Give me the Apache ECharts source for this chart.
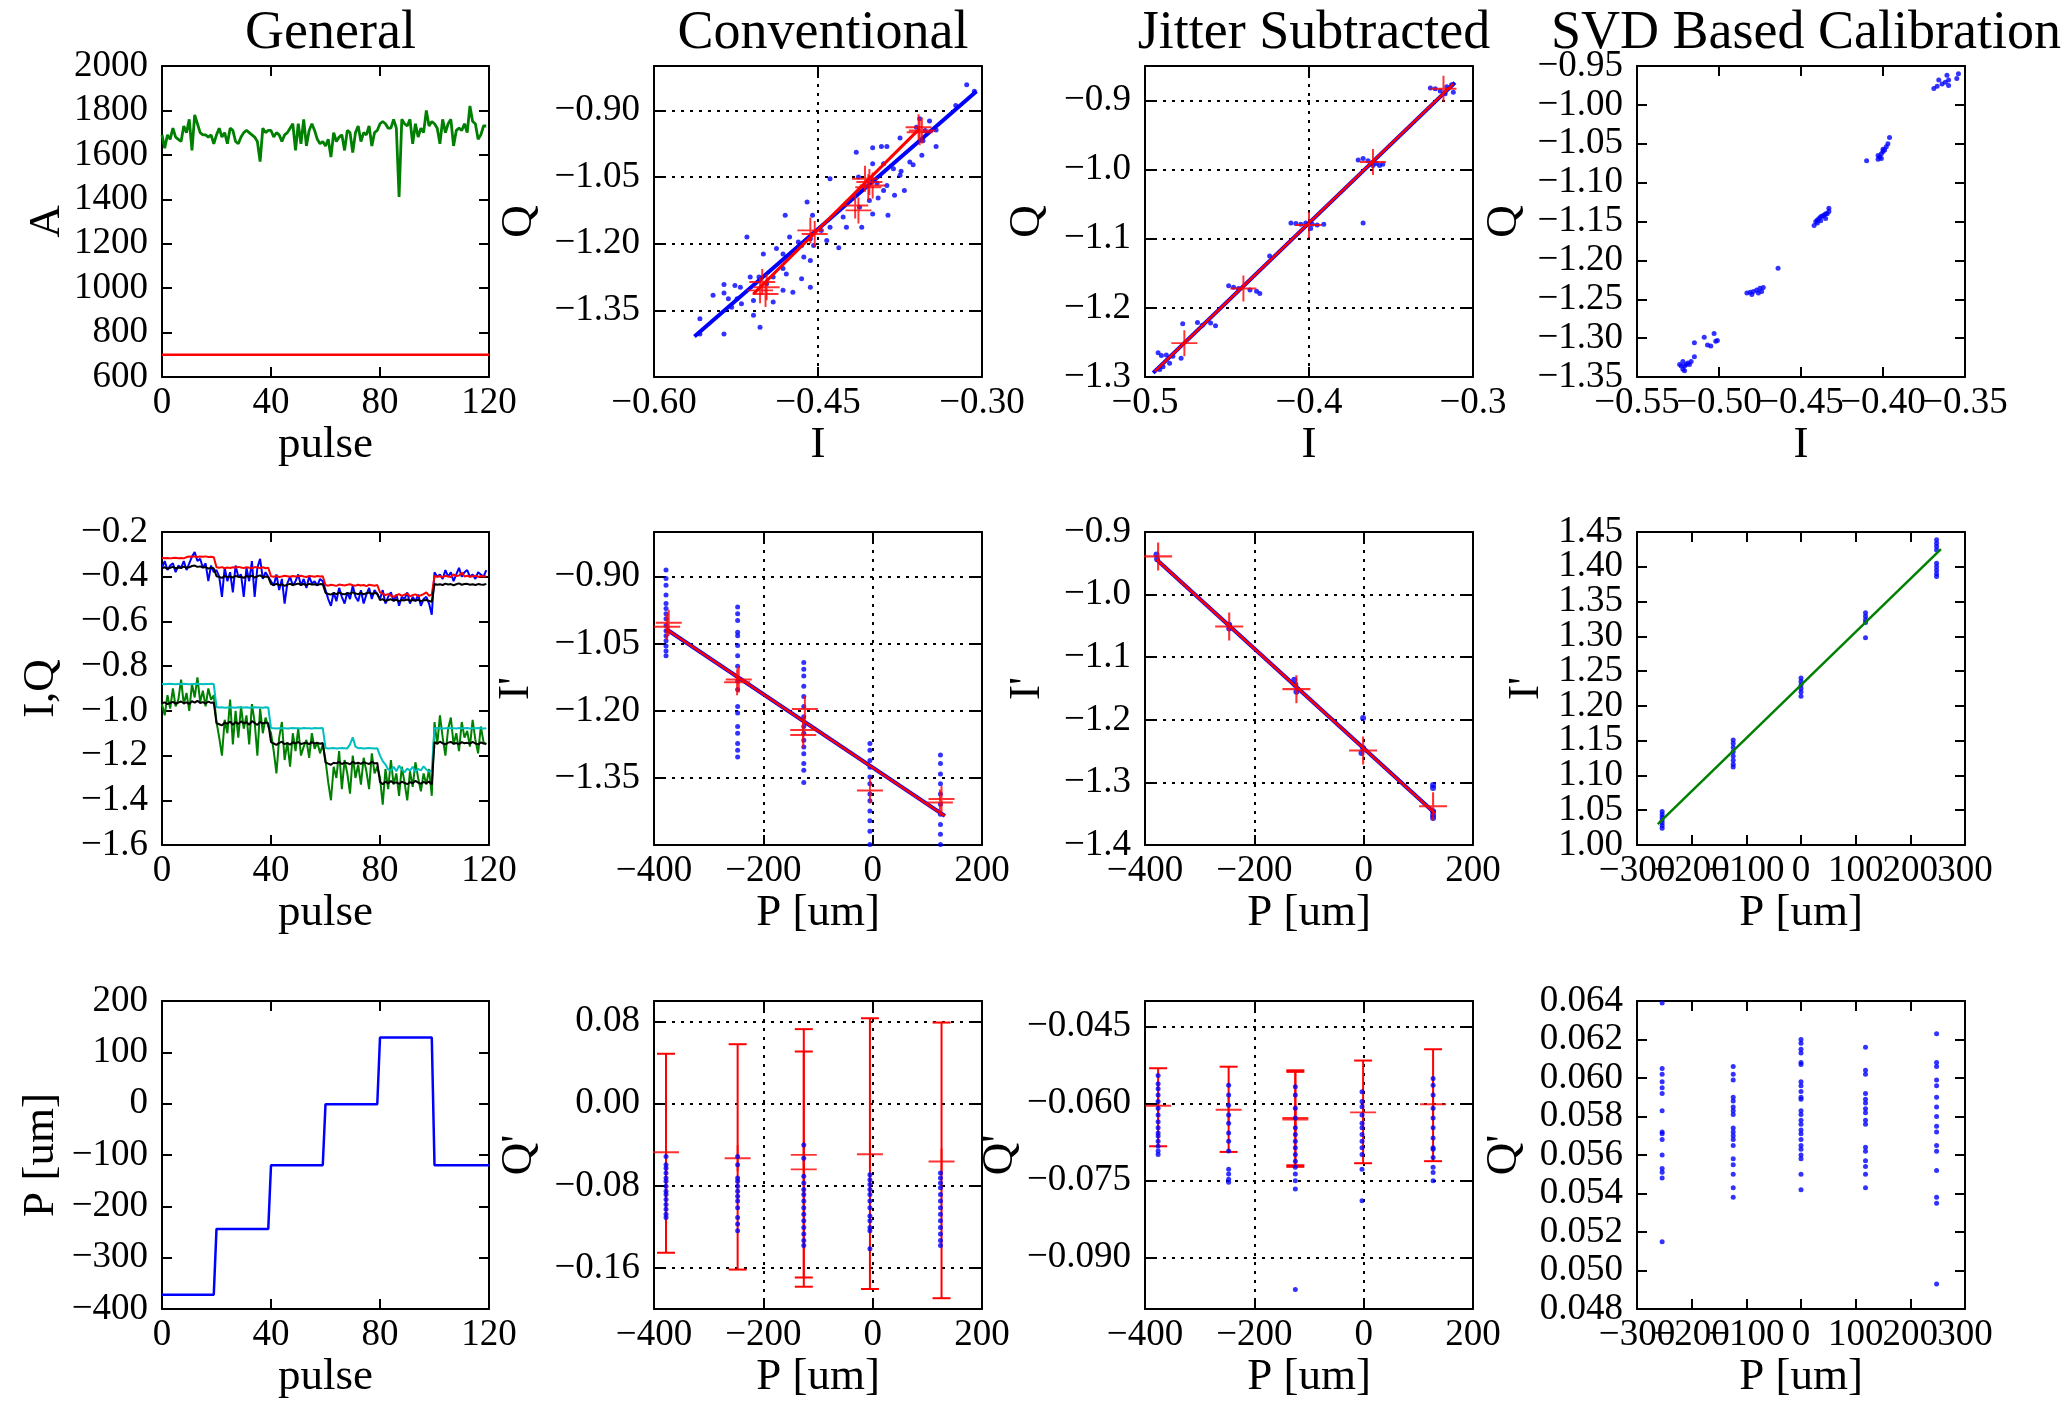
<!DOCTYPE html>
<html><head><meta charset="utf-8">
<script src="https://cdn.jsdelivr.net/npm/echarts@6/dist/echarts.min.js"></script>
<style>html,body{margin:0;padding:0;background:#fff}#c{width:2061px;height:1401px}</style>
</head><body><div id="c"></div>
<script>
const FONT = 'Liberation Serif';
const titles = ['General', 'Conventional', 'Jitter Subtracted', 'SVD Based Calibration'];

// ---------- tick labels ----------
const ticksPulse = ['0', '40', '80', '120'];
const ticksA = ['600', '800', '1000', '1200', '1400', '1600', '1800', '2000'];
const ticksI01 = ['−0.60', '−0.45', '−0.30'];
const ticksQ01 = ['−1.35', '−1.20', '−1.05', '−0.90'];
const ticksI02 = ['−0.5', '−0.4', '−0.3'];
const ticksQ02 = ['−1.3', '−1.2', '−1.1', '−1.0', '−0.9'];
const ticksI03 = ['−0.55', '−0.50', '−0.45', '−0.40', '−0.35'];
const ticksQ03 = ['−1.35', '−1.30', '−1.25', '−1.20', '−1.15', '−1.10', '−1.05', '−1.00', '−0.95'];
const ticksIQ = ['−1.6', '−1.4', '−1.2', '−1.0', '−0.8', '−0.6', '−0.4', '−0.2'];
const ticksP = ['−400', '−200', '0', '200'];
const ticksI12 = ['−1.4', '−1.3', '−1.2', '−1.1', '−1.0', '−0.9'];
const ticksPc = ['−300', '−200', '−100', '0', '100', '200', '300'];
const ticksI13 = ['1.00', '1.05', '1.10', '1.15', '1.20', '1.25', '1.30', '1.35', '1.40', '1.45'];
const ticksPpos = ['−400', '−300', '−200', '−100', '0', '100', '200'];
const ticksQ21 = ['−0.16', '−0.08', '0.00', '0.08'];
const ticksQ22 = ['−0.090', '−0.075', '−0.060', '−0.045'];
const ticksQ23 = ['0.048', '0.050', '0.052', '0.054', '0.056', '0.058', '0.060', '0.062', '0.064'];

// ---------- General column ----------
const amp = [1690,1630,1690,1670,1720,1680,1670,1660,1730,1700,1760,1620,1780,1740,1700,1690,1690,1680,1690,1650,
1690,1720,1680,1700,1650,1720,1710,1660,1650,1680,1700,1710,1700,1690,1680,1660,1570,1720,1700,1710,
1710,1680,1700,1690,1660,1690,1700,1720,1740,1620,1740,1650,1760,1640,1710,1740,1710,1670,1650,1660,
1640,1670,1590,1700,1660,1680,1690,1620,1710,1700,1610,1700,1730,1660,1700,1690,1730,1640,1700,1710,
1740,1750,1740,1720,1720,1760,1720,1410,1760,1740,1730,1760,1650,1740,1680,1720,1700,1800,1730,1750,
1740,1720,1650,1760,1700,1740,1760,1640,1710,1720,1710,1740,1700,1820,1750,1740,1670,1690,1730,1730];
const ampThreshold = [[0, 700], [120, 700]];

const iMeas = [-0.36,-0.33,-0.37,-0.35,-0.34,-0.38,-0.35,-0.36,-0.33,-0.37,-0.34,-0.31,-0.29,-0.33,-0.32,-0.36,-0.34,-0.42,-0.35,-0.38,
-0.37,-0.40,-0.49,-0.36,-0.42,-0.38,-0.47,-0.35,-0.40,-0.39,-0.49,-0.36,-0.42,-0.33,-0.49,-0.36,-0.32,-0.41,-0.38,-0.40,
-0.42,-0.44,-0.39,-0.46,-0.41,-0.52,-0.43,-0.40,-0.44,-0.42,-0.39,-0.44,-0.41,-0.45,-0.40,-0.43,-0.42,-0.44,-0.41,-0.42,
-0.46,-0.50,-0.53,-0.47,-0.51,-0.45,-0.49,-0.52,-0.47,-0.50,-0.44,-0.49,-0.51,-0.46,-0.52,-0.48,-0.45,-0.50,-0.46,-0.48,
-0.50,-0.46,-0.52,-0.49,-0.47,-0.51,-0.48,-0.53,-0.49,-0.50,-0.47,-0.52,-0.49,-0.51,-0.48,-0.53,-0.50,-0.49,-0.52,-0.57,
-0.38,-0.40,-0.39,-0.41,-0.37,-0.40,-0.38,-0.42,-0.39,-0.36,-0.40,-0.38,-0.37,-0.40,-0.39,-0.41,-0.38,-0.39,-0.40,-0.37];
const iRef = [-0.315,-0.317,-0.316,-0.318,-0.316,-0.315,-0.317,-0.316,-0.318,-0.312,-0.310,-0.311,-0.309,-0.312,-0.310,-0.311,-0.309,-0.312,-0.311,-0.313,
-0.358,-0.360,-0.357,-0.362,-0.359,-0.361,-0.358,-0.360,-0.356,-0.359,-0.361,-0.358,-0.360,-0.362,-0.357,-0.359,-0.361,-0.358,-0.362,-0.360,
-0.398,-0.400,-0.397,-0.401,-0.399,-0.396,-0.398,-0.400,-0.397,-0.399,-0.398,-0.396,-0.399,-0.401,-0.397,-0.398,-0.400,-0.397,-0.399,-0.398,
-0.437,-0.440,-0.436,-0.438,-0.441,-0.435,-0.437,-0.439,-0.436,-0.434,-0.438,-0.440,-0.436,-0.439,-0.437,-0.442,-0.436,-0.438,-0.440,-0.437,
-0.470,-0.476,-0.482,-0.478,-0.485,-0.490,-0.483,-0.478,-0.486,-0.480,-0.475,-0.488,-0.482,-0.479,-0.487,-0.483,-0.478,-0.470,-0.485,-0.480,
-0.397,-0.400,-0.398,-0.402,-0.396,-0.399,-0.401,-0.390,-0.397,-0.395,-0.382,-0.399,-0.396,-0.400,-0.398,-0.395,-0.401,-0.397,-0.399,-0.398];
const iFit = [-0.362,-0.358,-0.365,-0.360,-0.356,-0.363,-0.359,-0.361,-0.355,-0.360,-0.358,-0.352,-0.350,-0.356,-0.354,-0.359,-0.357,-0.364,-0.360,-0.362,
-0.398,-0.401,-0.405,-0.397,-0.402,-0.399,-0.404,-0.396,-0.401,-0.400,-0.405,-0.397,-0.401,-0.395,-0.404,-0.398,-0.394,-0.402,-0.399,-0.401,
-0.433,-0.437,-0.432,-0.438,-0.434,-0.441,-0.435,-0.432,-0.437,-0.434,-0.431,-0.436,-0.433,-0.438,-0.432,-0.435,-0.434,-0.437,-0.433,-0.434,
-0.472,-0.477,-0.480,-0.473,-0.478,-0.471,-0.476,-0.479,-0.473,-0.476,-0.470,-0.475,-0.478,-0.472,-0.479,-0.474,-0.471,-0.477,-0.473,-0.475,
-0.505,-0.500,-0.509,-0.504,-0.501,-0.507,-0.503,-0.510,-0.504,-0.506,-0.502,-0.508,-0.504,-0.507,-0.503,-0.509,-0.505,-0.504,-0.508,-0.512,
-0.433,-0.436,-0.434,-0.437,-0.431,-0.435,-0.433,-0.438,-0.434,-0.430,-0.436,-0.433,-0.432,-0.436,-0.434,-0.437,-0.433,-0.435,-0.436,-0.432];
const qMeas = [-0.97,-1.02,-0.93,-0.99,-0.90,-0.98,-0.95,-0.86,-0.97,-0.92,-1.00,-0.88,-0.94,-0.85,-0.96,-0.91,-0.98,-0.90,-0.95,-0.93,
-1.05,-1.12,-1.20,-1.04,-1.10,-0.95,-1.15,-1.00,-1.12,-0.98,-1.08,-1.02,-1.15,-0.97,-1.05,-1.20,-0.99,-1.10,-1.03,-1.07,
-1.10,-1.18,-1.28,-1.12,-1.05,-1.22,-1.14,-1.25,-1.10,-1.18,-1.08,-1.20,-1.16,-1.13,-1.21,-1.10,-1.17,-1.14,-1.19,-1.15,
-1.22,-1.32,-1.40,-1.25,-1.30,-1.18,-1.35,-1.22,-1.28,-1.37,-1.20,-1.30,-1.24,-1.33,-1.21,-1.27,-1.35,-1.19,-1.28,-1.25,
-1.30,-1.42,-1.26,-1.35,-1.22,-1.33,-1.28,-1.38,-1.25,-1.32,-1.40,-1.27,-1.34,-1.23,-1.30,-1.36,-1.28,-1.33,-1.26,-1.38,
-1.05,-1.15,-1.02,-1.12,-1.20,-1.08,-1.03,-1.15,-1.10,-1.18,-1.05,-1.12,-1.09,-1.16,-1.04,-1.13,-1.19,-1.07,-1.14,-1.15];
const qRef = [-0.880,-0.881,-0.880,-0.879,-0.880,-0.881,-0.880,-0.880,-0.879,-0.880,-0.881,-0.880,-0.880,-0.879,-0.880,-0.881,-0.880,-0.880,-0.879,-0.880,
-0.983,-0.985,-0.984,-0.986,-0.985,-0.984,-0.985,-0.986,-0.984,-0.985,-0.985,-0.984,-0.986,-0.985,-0.984,-0.985,-0.985,-0.986,-0.984,-0.985,
-1.077,-1.078,-1.079,-1.078,-1.077,-1.078,-1.079,-1.078,-1.077,-1.078,-1.078,-1.079,-1.077,-1.078,-1.078,-1.079,-1.077,-1.078,-1.078,-1.077,
-1.166,-1.168,-1.167,-1.166,-1.168,-1.167,-1.166,-1.167,-1.168,-1.150,-1.118,-1.160,-1.167,-1.166,-1.168,-1.167,-1.166,-1.167,-1.168,-1.167,
-1.200,-1.225,-1.240,-1.262,-1.268,-1.250,-1.270,-1.245,-1.262,-1.275,-1.258,-1.268,-1.250,-1.272,-1.260,-1.266,-1.248,-1.262,-1.272,-1.268,
-1.078,-1.077,-1.078,-1.079,-1.078,-1.077,-1.078,-1.078,-1.079,-1.077,-1.078,-1.078,-1.077,-1.079,-1.078,-1.078,-1.077,-1.078,-1.079,-1.078];
const qFit = [-0.966,-0.962,-0.970,-0.965,-0.960,-0.968,-0.963,-0.958,-0.966,-0.962,-0.969,-0.957,-0.963,-0.955,-0.965,-0.961,-0.967,-0.959,-0.964,-0.963,
-1.055,-1.060,-1.065,-1.052,-1.058,-1.048,-1.062,-1.050,-1.059,-1.047,-1.056,-1.051,-1.062,-1.046,-1.054,-1.063,-1.049,-1.057,-1.052,-1.055,
-1.140,-1.146,-1.152,-1.143,-1.138,-1.149,-1.144,-1.151,-1.141,-1.146,-1.139,-1.148,-1.145,-1.142,-1.149,-1.140,-1.146,-1.143,-1.147,-1.144,
-1.230,-1.236,-1.241,-1.232,-1.235,-1.228,-1.238,-1.231,-1.234,-1.239,-1.227,-1.236,-1.232,-1.237,-1.229,-1.234,-1.238,-1.228,-1.235,-1.233,
-1.318,-1.328,-1.316,-1.325,-1.314,-1.323,-1.320,-1.327,-1.317,-1.322,-1.328,-1.319,-1.324,-1.313,-1.321,-1.326,-1.318,-1.323,-1.316,-1.330,
-1.140,-1.147,-1.138,-1.145,-1.150,-1.142,-1.139,-1.147,-1.144,-1.149,-1.140,-1.145,-1.143,-1.147,-1.139,-1.146,-1.150,-1.141,-1.146,-1.147];

const posPulse = [0, 19, 20, 39, 40, 59, 60, 79, 80, 99, 100, 120];
const posValue = [-372, -372, -244, -244, -120, -120, -1, -1, 129, 129, -120, -120];

// ---------- Row 1: Q vs I ----------
const dots01 = [[-0.314,-0.842],[-0.307,-0.857],[-0.324,-0.889],[-0.357,-0.919],[-0.348,-0.924],[-0.360,-0.938],[-0.352,-0.945],
[-0.342,-0.944],[-0.375,-0.962],[-0.354,-0.968],[-0.342,-0.981],[-0.400,-0.984],[-0.392,-0.981],[-0.387,-0.981],[-0.415,-0.994],
[-0.355,-1.001],[-0.363,-1.022],[-0.366,-1.016],[-0.374,-1.037],[-0.400,-1.020],[-0.390,-1.020],[-0.381,-1.031],[-0.375,-1.046],
[-0.439,-1.054],[-0.413,-1.050],[-0.400,-1.058],[-0.396,-1.064],[-0.387,-1.069],[-0.390,-1.080],[-0.380,-1.091],[-0.371,-1.080],
[-0.395,-1.097],[-0.403,-1.103],[-0.460,-1.106],[-0.412,-1.118],[-0.400,-1.133],[-0.386,-1.136],[-0.427,-1.140],[-0.424,-1.163],
[-0.410,-1.163],[-0.480,-1.136],[-0.455,-1.136],[-0.439,-1.163],[-0.447,-1.170],[-0.442,-1.193],[-0.431,-1.209],[-0.515,-1.185],
[-0.476,-1.185],[-0.457,-1.189],[-0.468,-1.196],[-0.465,-1.204],[-0.500,-1.223],[-0.488,-1.211],[-0.482,-1.223],[-0.473,-1.219],
[-0.454,-1.204],[-0.463,-1.230],[-0.457,-1.238],[-0.482,-1.256],[-0.479,-1.268],[-0.465,-1.279],[-0.457,-1.298],[-0.512,-1.275],
[-0.504,-1.275],[-0.491,-1.275],[-0.497,-1.290],[-0.536,-1.292],[-0.526,-1.294],[-0.521,-1.298],[-0.509,-1.328],[-0.546,-1.316],
[-0.536,-1.311],[-0.532,-1.324],[-0.524,-1.324],[-0.520,-1.335],[-0.491,-1.331],[-0.482,-1.305],[-0.473,-1.309],[-0.529,-1.343],
[-0.509,-1.361],[-0.503,-1.388],[-0.536,-1.403],[-0.558,-1.369],[-0.558,-1.403]];
const fitBlue01 = [[-0.563, -1.409], [-0.305, -0.857]];
const fitRed01 = [[-0.509, -1.313], [-0.357, -0.941]];
const plus01 = [[-0.501,-1.286],[-0.497,-1.298],[-0.503,-1.305],[-0.498,-1.313],[-0.457,-1.170],[-0.453,-1.178],
[-0.416,-1.114],[-0.413,-1.125],[-0.407,-1.054],[-0.403,-1.061],[-0.400,-1.069],[-0.404,-1.073],
[-0.358,-0.938],[-0.355,-0.945],[-0.357,-0.949]];

const dots02 = [[-0.326,-0.882],[-0.323,-0.883],[-0.320,-0.886],[-0.316,-0.880],[-0.313,-0.877],[-0.312,-0.888],[-0.317,-0.890],
[-0.370,-0.986],[-0.367,-0.984],[-0.364,-0.987],[-0.359,-0.991],[-0.357,-0.994],[-0.355,-0.992],[-0.361,-0.994],
[-0.411,-1.077],[-0.408,-1.078],[-0.405,-1.079],[-0.402,-1.077],[-0.398,-1.079],[-0.395,-1.080],[-0.391,-1.079],[-0.399,-1.085],[-0.367,-1.077],
[-0.449,-1.168],[-0.446,-1.170],[-0.443,-1.172],[-0.436,-1.174],[-0.432,-1.176],[-0.430,-1.179],[-0.424,-1.125],
[-0.477,-1.223],[-0.468,-1.221],[-0.465,-1.225],[-0.460,-1.222],[-0.457,-1.226],[-0.492,-1.265],[-0.490,-1.269],[-0.487,-1.268],
[-0.483,-1.270],[-0.478,-1.273],[-0.491,-1.289],[-0.489,-1.285],[-0.485,-1.280]];
const fitBlue02 = [[-0.495, -1.294], [-0.311, -0.874]];
const fitRed02 = [[-0.494, -1.292], [-0.312, -0.876]];
const plus02 = [[-0.476,-1.251],[-0.440,-1.172],[-0.400,-1.080],[-0.361,-0.989],[-0.318,-0.883]];

const dots03 = [[-0.369,-0.979],[-0.367,-0.976],[-0.366,-0.968],[-0.364,-0.973],[-0.362,-0.971],[-0.361,-0.962],[-0.360,-0.968],
[-0.360,-0.975],[-0.355,-0.966],[-0.354,-0.960],
[-0.410,-1.072],[-0.403,-1.070],[-0.402,-1.067],[-0.401,-1.063],[-0.400,-1.060],[-0.399,-1.058],[-0.398,-1.054],[-0.397,-1.050],
[-0.396,-1.042],[-0.403,-1.065],[-0.400,-1.057],[-0.401,-1.069],
[-0.442,-1.155],[-0.441,-1.150],[-0.440,-1.148],[-0.439,-1.146],[-0.438,-1.144],[-0.437,-1.143],[-0.436,-1.142],[-0.435,-1.140],
[-0.434,-1.140],[-0.433,-1.137],[-0.433,-1.133],[-0.440,-1.152],[-0.438,-1.149],[-0.435,-1.146],
[-0.464,-1.210],
[-0.483,-1.242],[-0.481,-1.241],[-0.479,-1.240],[-0.477,-1.238],[-0.475,-1.236],[-0.473,-1.235],[-0.480,-1.244],[-0.476,-1.242],[-0.474,-1.240],
[-0.509,-1.299],[-0.507,-1.309],[-0.505,-1.310],[-0.503,-1.294],[-0.502,-1.304],[-0.501,-1.303],[-0.515,-1.306],
[-0.524,-1.334],[-0.523,-1.336],[-0.522,-1.340],[-0.521,-1.336],[-0.520,-1.334],[-0.519,-1.332],[-0.518,-1.334],[-0.517,-1.330],
[-0.515,-1.324],[-0.522,-1.330],[-0.521,-1.342]];

// ---------- Row 2: I' vs P ----------
const pos11 = [-378, -247, -126, -5, 124];
const cols11 = [
 [-0.885,-0.904,-0.919,-0.941,-0.960,-0.971,-0.983,-0.994,-1.009,-1.021,-1.032,-1.043,-1.055,-1.066,-1.077],
 [-0.968,-0.983,-0.998,-1.024,-1.032,-1.054,-1.077,-1.100,-1.134,-1.152,-1.190,-1.205,-1.235,-1.250,-1.273,-1.288,-1.303],
 [-1.092,-1.107,-1.122,-1.145,-1.168,-1.190,-1.213,-1.235,-1.250,-1.266,-1.281,-1.296,-1.318,-1.333,-1.360],
 [-1.273,-1.288,-1.311,-1.326,-1.348,-1.363,-1.386,-1.401,-1.424,-1.446,-1.469,-1.499],
 [-1.299,-1.318,-1.341,-1.363,-1.386,-1.409,-1.431,-1.454,-1.476,-1.499]];
const fit11 = [[-378, -1.017], [132, -1.435]];
const plus11 = [[-373,-1.003],[-376,-1.012],[-248,-1.136],[-245,-1.130],[-124,-1.196],[-127,-1.243],[-127,-1.254],
[-5,-1.378],[126,-1.397],[123,-1.405]];

const dots12 = [[-379,-0.936],[-378,-0.943],[-246,-1.048],[-246,-1.054],[-127,-1.136],[-125,-1.144],[-123,-1.155],
[-1,-1.197],[-4,-1.253],[-1,-1.245],[127,-1.304],[127,-1.309],[127,-1.352],[127,-1.357],[127,-1.346]];
const fit12 = [[-379, -0.944], [130, -1.349]];
const plus12 = [[-376,-0.939],[-246,-1.051],[-123,-1.151],[-1,-1.249],[127,-1.338]];

const posC = [-254, -124, 0, 118, 248];
const cols13 = [
 [1.048,1.044,1.040,1.036,1.032,1.028,1.024],
 [1.151,1.146,1.140,1.134,1.128,1.122,1.116,1.112],
 [1.240,1.235,1.230,1.225,1.220,1.214],
 [1.334,1.329,1.324,1.320,1.298],
 [1.439,1.434,1.429,1.424,1.405,1.400,1.395,1.390,1.386]];
const fit13 = [[-262, 1.030], [256, 1.4255]];

// ---------- Row 3: Q' vs P ----------
const ebX21 = [-378, -247, -126, -126, -5, 126];
const ebMean21 = [-0.0474, -0.0531, -0.0499, -0.0640, -0.0493, -0.0564];
const ebHi21 = [0.0486, 0.0579, 0.0726, 0.0508, 0.0832, 0.0790];
const ebLo21 = [-0.1452, -0.1616, -0.1693, -0.1783, -0.1805, -0.1895];
const pos21 = [-378, -247, -126, -5, 124];
const cols21 = [
 [-0.0515,-0.0596,-0.0628,-0.0676,-0.0724,-0.0756,-0.0804,-0.0853,-0.0885,-0.0933,-0.0981,-0.1029,-0.1077,-0.1109],
 [-0.0515,-0.0596,-0.0724,-0.0756,-0.0804,-0.0853,-0.0901,-0.0949,-0.1013,-0.1109,-0.1173,-0.1237],
 [-0.0403,-0.0531,-0.0708,-0.0772,-0.0837,-0.0885,-0.0949,-0.1013,-0.1077,-0.1141,-0.1205,-0.1269,-0.1333,-0.1382],
 [-0.0692,-0.0740,-0.0788,-0.0837,-0.0885,-0.0949,-0.1013,-0.1093,-0.1141,-0.1205,-0.1237,-0.1414],
 [-0.0676,-0.0724,-0.0772,-0.0820,-0.0885,-0.0949,-0.1013,-0.1077,-0.1141,-0.1205,-0.1269,-0.1333,-0.1382]];

const ebX22 = [-376, -247, -125, -125, -1, 127];
const ebMean22 = [-0.0604, -0.0612, -0.0628, -0.0631, -0.0617, -0.0601];
const ebHi22 = [-0.0531, -0.0528, -0.0535, -0.0538, -0.0516, -0.0494];
const ebLo22 = [-0.0683, -0.0694, -0.0720, -0.0723, -0.0716, -0.0712];
const pos22 = [-376, -247, -125, -3, 127];
const cols22 = [
 [-0.0545,-0.0561,-0.0571,-0.0583,-0.0596,-0.0609,-0.0622,-0.0635,-0.0647,-0.0657,-0.0663,-0.0673,-0.0683,-0.0692,-0.0699],
 [-0.0564,-0.0583,-0.0603,-0.0622,-0.0638,-0.0657,-0.0673,-0.0692,-0.0728,-0.0737,-0.0747,-0.0753],
 [-0.0567,-0.0583,-0.0609,-0.0628,-0.0647,-0.0660,-0.0673,-0.0686,-0.0699,-0.0712,-0.0724,-0.0737,-0.0750,-0.0766,-0.0962],
 [-0.0577,-0.0596,-0.0606,-0.0622,-0.0638,-0.0647,-0.0660,-0.0673,-0.0686,-0.0699,-0.0728,-0.0789],
 [-0.0551,-0.0564,-0.0583,-0.0609,-0.0628,-0.0647,-0.0667,-0.0686,-0.0689,-0.0705,-0.0724,-0.0734,-0.0750]];

const cols23 = [
 [0.0639,0.0605,0.0602,0.0598,0.0595,0.0592,0.0583,0.0572,0.0571,0.0568,0.0560,0.0553,0.0551,0.0548,0.0515],
 [0.0606,0.0602,0.0599,0.0590,0.0588,0.0585,0.0583,0.0581,0.0574,0.0572,0.0570,0.0568,0.0565,0.0558,0.0555,0.0550,0.0543,0.0538],
 [0.0620,0.0618,0.0615,0.0613,0.0608,0.0607,0.0598,0.0596,0.0593,0.0590,0.0589,0.0583,0.0581,0.0578,0.0576,0.0573,0.0571,
  0.0568,0.0565,0.0563,0.0560,0.0558,0.0550,0.0542],
 [0.0616,0.0604,0.0602,0.0592,0.0589,0.0587,0.0584,0.0582,0.0578,0.0576,0.0564,0.0562,0.0557,0.0554,0.0550,0.0543],
 [0.0623,0.0608,0.0606,0.0599,0.0596,0.0590,0.0585,0.0580,0.0575,0.0572,0.0565,0.0562,0.0552,0.0538,0.0535,0.0493]];

// ---------- layout ----------
const colLeft = [162, 654, 1145, 1637];
const colWidth = [327, 328, 328, 328];
const rowTop = [66, 532, 1001];
const rowHeight = [311, 313, 312];

const panels = [
 {x: ticksPulse, xr: [0, 120], y: ticksA, yr: [600, 2000], xn: 'pulse', yn: 'A', yg: 86, grid: false},
 {x: ticksI01, xr: [-0.6, -0.3], y: ticksQ01, yr: [-1.5, -0.8], xn: 'I', yn: 'Q', yg: 112, grid: true},
 {x: ticksI02, xr: [-0.5, -0.3], y: ticksQ02, yr: [-1.3, -0.85], xn: 'I', yn: 'Q', yg: 95, grid: true},
 {x: ticksI03, xr: [-0.55, -0.35], y: ticksQ03, yr: [-1.35, -0.95], xn: 'I', yn: 'Q', yg: 110, grid: false},
 {x: ticksPulse, xr: [0, 120], y: ticksIQ, yr: [-1.6, -0.2], xn: 'pulse', yn: 'I,Q', yg: 98, grid: false},
 {x: ticksP, xr: [-400, 200], y: ticksQ01, yr: [-1.5, -0.8], xn: 'P [um]', yn: "I'", yg: 115, grid: true},
 {x: ticksP, xr: [-400, 200], y: ticksI12, yr: [-1.4, -0.9], xn: 'P [um]', yn: "I'", yg: 95, grid: true},
 {x: ticksPc, xr: [-300, 300], y: ticksI13, yr: [1.0, 1.45], xn: 'P [um]', yn: "I'", yg: 88, grid: false},
 {x: ticksPulse, xr: [0, 120], y: ticksPpos, yr: [-400, 200], xn: 'pulse', yn: 'P [um]', yg: 98, grid: false},
 {x: ticksP, xr: [-400, 200], y: ticksQ21, yr: [-0.2, 0.1], xn: 'P [um]', yn: "Q'", yg: 112, grid: true},
 {x: ticksP, xr: [-400, 200], y: ticksQ22, yr: [-0.1, -0.04], xn: 'P [um]', yn: "Q'", yg: 95, grid: true},
 {x: ticksPc, xr: [-300, 300], y: ticksQ23, yr: [0.048, 0.064], xn: 'P [um]', yn: "Q'", yg: 110, grid: false}
];

const num = s => parseFloat(s.replace('−', '-'));
const grids = [], xAxes = [], yAxes = [];
const AX_PER_PANEL = 3;

// role: 'main' (line, ticks, even labels, name, grid), 'labels' (odd labels only), 'mirror' (opposite side line+ticks)
function mkAxis(dim, i, pos, ticks, range, role, name, gap, grid) {
  const vals = ticks.map(num);
  const labelIdx = role === 'main' ? 0 : 1;
  const labelVals = vals.filter((_, k) => k % 2 === labelIdx);
  const showLabels = role !== 'mirror';
  const ax = {
    type: 'value', gridIndex: i, position: pos, min: range[0], max: range[1], scale: true,
    axisLine: {show: role !== 'labels', onZero: false, lineStyle: {color: '#000', width: 2}},
    axisTick: {show: role !== 'labels', inside: true, length: 10, customValues: vals, lineStyle: {color: '#000', width: 2}},
    axisLabel: {show: showLabels, customValues: showLabels ? labelVals : vals, showMinLabel: true, showMaxLabel: true,
      margin: dim === 'x' ? 8 : 14, color: '#000', fontSize: 37, fontFamily: FONT,
      formatter: v => { for (let k = 0; k < vals.length; k++) if (Math.abs(vals[k] - v) < 1e-7) return ticks[k]; return ''; }},
    splitLine: {show: grid && role === 'main', lineStyle: {color: '#000', width: 2, type: [3, 6]}}
  };
  if (role === 'main') {
    ax.name = name; ax.nameLocation = 'middle'; ax.nameGap = gap;
    ax.nameTextStyle = {fontSize: 45, fontFamily: FONT, color: '#000'};
    if (dim === 'y') ax.nameRotate = 90;
  }
  return ax;
}

panels.forEach((p, i) => {
  const r = Math.floor(i / 4), c = i % 4;
  grids.push({left: colLeft[c], top: rowTop[r], width: colWidth[c], height: rowHeight[r], containLabel: false});
  xAxes.push(mkAxis('x', i, 'bottom', p.x, p.xr, 'main', p.xn, 46, p.grid));
  xAxes.push(mkAxis('x', i, 'bottom', p.x, p.xr, 'labels', '', 0, false));
  xAxes.push(mkAxis('x', i, 'top', p.x, p.xr, 'mirror', '', 0, false));
  yAxes.push(mkAxis('y', i, 'left', p.y, p.yr, 'main', p.yn, p.yg, p.grid));
  yAxes.push(mkAxis('y', i, 'left', p.y, p.yr, 'labels', '', 0, false));
  yAxes.push(mkAxis('y', i, 'right', p.y, p.yr, 'mirror', '', 0, false));
});

const PLUS = 'path://M-1,-0.075L1,-0.075L1,0.075L-1,0.075Z M-0.075,-1L0.075,-1L0.075,1L-0.075,1Z';
const series = [];
function ax(i) { return {xAxisIndex: AX_PER_PANEL * i, yAxisIndex: AX_PER_PANEL * i}; }
function line(i, data, color, w, z) {
  series.push(Object.assign({type: 'line', data, showSymbol: false, symbol: 'none', lineStyle: {color, width: w}, z: z || 2, silent: true}, ax(i)));
}
function dots(i, data, color, size, z) {
  series.push(Object.assign({type: 'scatter', data, symbol: 'circle', symbolSize: size, itemStyle: {color}, z: z || 2, silent: true}, ax(i)));
}
function plus(i, data, size, z) {
  series.push(Object.assign({type: 'scatter', data, symbol: PLUS, symbolSize: size, itemStyle: {color: '#ff0000'}, z: z || 3, silent: true}, ax(i)));
}
function errbars(i, xs, lo, hi, z) {
  series.push(Object.assign({type: 'custom', data: xs.map((x, k) => [x, lo[k], hi[k]]), encode: {x: 0, y: [1, 2]}, z: z || 2, silent: true,
    renderItem: (params, api) => {
      const a = api.coord([api.value(0), api.value(2)]), b = api.coord([api.value(0), api.value(1)]);
      const w = 9, st = {stroke: '#ff0000', lineWidth: 2};
      return {type: 'group', children: [
        {type: 'line', shape: {x1: a[0], y1: a[1], x2: b[0], y2: b[1]}, style: st},
        {type: 'line', shape: {x1: a[0] - w, y1: a[1], x2: a[0] + w, y2: a[1]}, style: st},
        {type: 'line', shape: {x1: b[0] - w, y1: b[1], x2: b[0] + w, y2: b[1]}, style: st}]};
    }}, ax(i)));
}
const idxPairs = arr => arr.map((v, k) => [k, v]);
const colPairs = (pos, cols) => { const out = []; cols.forEach((c, k) => c.forEach(v => out.push([pos[k], v]))); return out; };

// General
line(0, idxPairs(amp), '#008000', 2.8);
line(0, ampThreshold, '#ff0000', 2.5);
line(4, idxPairs(iMeas), '#0000ff', 2);
line(4, idxPairs(iRef), '#ff0000', 2);
line(4, idxPairs(iFit), '#000000', 2, 4);
line(4, idxPairs(qMeas), '#008000', 2);
line(4, idxPairs(qRef), '#00bfbf', 2, 3);
line(4, idxPairs(qFit), '#000000', 2, 4);
line(8, posPulse.map((p, k) => [p, posValue[k]]), '#0000ff', 2.5);

// Conventional
dots(1, dots01, '#0000ff', 5);
line(1, fitBlue01, '#0000ff', 4, 3);
plus(1, plus01, 26, 4);
line(1, fitRed01, '#ff0000', 3, 5);
dots(5, colPairs(pos11, cols11), '#0000ff', 5);
line(5, fit11, '#0000ff', 4, 3);
line(5, fit11, '#ff0000', 2.5, 4);
plus(5, plus11, 26, 5);
errbars(9, ebX21, ebLo21, ebHi21, 2);
plus(9, ebX21.map((x, k) => [x, ebMean21[k]]), 26, 3);
dots(9, colPairs(pos21, cols21), '#0000ff', 5, 4);

// Jitter subtracted
dots(2, dots02, '#0000ff', 5);
line(2, fitBlue02, '#0000ff', 4, 3);
line(2, fitRed02, '#ff0000', 2.5, 4);
plus(2, plus02, 26, 5);
dots(6, dots12, '#0000ff', 6);
line(6, fit12, '#0000ff', 4, 3);
line(6, fit12, '#ff0000', 2.5, 4);
plus(6, plus12, 28, 5);
errbars(10, ebX22, ebLo22, ebHi22, 2);
plus(10, ebX22.map((x, k) => [x, ebMean22[k]]), 26, 3);
dots(10, colPairs(pos22, cols22), '#0000ff', 5, 4);

// SVD
dots(3, dots03, '#0000ff', 5);
dots(7, colPairs(posC, cols13), '#0000ff', 5);
line(7, fit13, '#008000', 2.5, 3);
dots(11, colPairs(posC, cols23), '#0000ff', 5);

const chart = echarts.init(document.getElementById('c'), null, {renderer: 'canvas'});
chart.setOption({
  animation: false,
  backgroundColor: '#ffffff',
  textStyle: {fontFamily: FONT, color: '#000'},
  title: titles.map((t, c) => ({text: t, left: colLeft[c] + colWidth[c] / 2, top: 2, textAlign: 'center',
    textStyle: {fontFamily: FONT, fontSize: 54, fontWeight: 'normal', color: '#000'}})),
  grid: grids,
  xAxis: xAxes,
  yAxis: yAxes,
  series: series
});
</script></body></html>
